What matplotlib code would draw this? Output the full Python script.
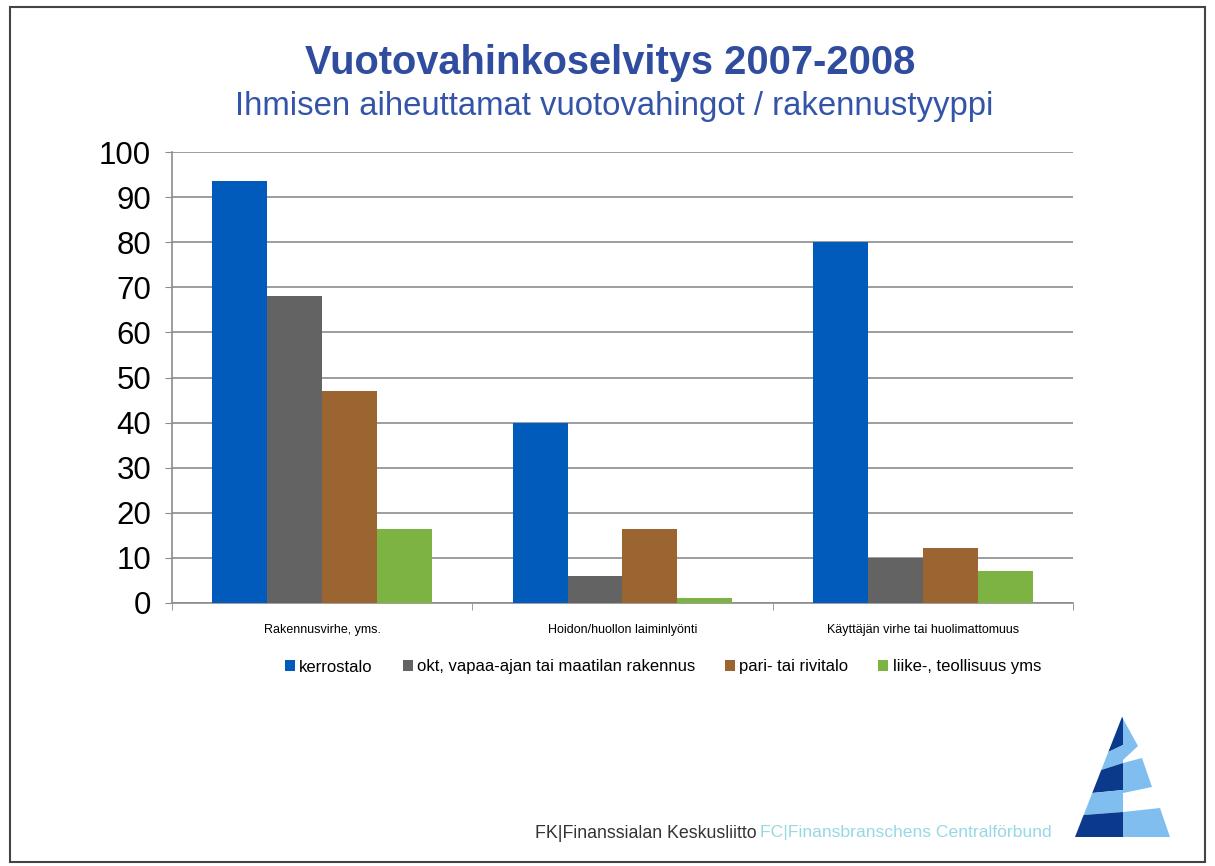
import matplotlib
matplotlib.use("Agg")
import matplotlib.pyplot as plt
from matplotlib.patches import Rectangle, Polygon
import numpy as np

plt.rcParams['font.family'] = ['Liberation Sans', 'DejaVu Sans']

categories = ["Rakennusvirhe, yms.", "Hoidon/huollon laiminlyönti", "Käyttäjän virhe tai huolimattomuus"]
series_names = ["kerrostalo", "okt, vapaa-ajan tai maatilan rakennus", "pari- tai rivitalo", "liike-, teollisuus yms"]
kerrostalo = [93.5, 40, 80]
okt = [68, 6, 10]
rivitalo = [47, 16.3, 12.3]
liike = [16.3, 1, 7]
yticks = [0, 10, 20, 30, 40, 50, 60, 70, 80, 90, 100]
colors = ["#005BBB", "#636363", "#9A6531", "#7DB343"]

title = "Vuotovahinkoselvitys 2007-2008"
subtitle = "Ihmisen aiheuttamat vuotovahingot / rakennustyyppi"
footer_fk = "FK|Finanssialan Keskusliitto"
footer_fc = "FC|Finansbranschens Centralförbund"

fig = plt.figure(figsize=(12.15, 8.66), dpi=100)
fig.patch.set_facecolor("white")

# frame
fig.patches.append(Rectangle((10/1215, 1-862/866), 1195/1215, 855/866, transform=fig.transFigure,
                             fill=False, edgecolor="#444444", lw=1.5))

ax = fig.add_axes([172/1215, 1-603/866, 901/1215, 451/866])
x = np.arange(len(categories))
w = 0.183
data = [kerrostalo, okt, rivitalo, liike]
for i, (vals, c, name) in enumerate(zip(data, colors, series_names)):
    ax.bar(x + (i - 1.5) * w, vals, width=w, color=c, label=name, zorder=3)

ax.set_xlim(-0.5, 2.5)
ax.set_ylim(0, 100)
ax.set_yticks(yticks)
ax.set_yticklabels([str(v) for v in yticks], fontsize=22.5)
ax.grid(axis='y', color="#8c8c8c", lw=1.2, zorder=0)
ax.set_xticks(x)
ax.set_xticklabels(categories, fontsize=9)
ax.set_xticks([-0.5, 0.5, 1.5, 2.5], minor=True)
ax.tick_params(axis='x', which='major', length=0, pad=15)
ax.tick_params(axis='x', which='minor', length=5, color="#8c8c8c", direction='out')
ax.tick_params(axis='y', length=5, color="#8c8c8c", pad=10)
for s in ['top', 'right']:
    ax.spines[s].set_visible(False)
for s in ['left', 'bottom']:
    ax.spines[s].set_color("#8c8c8c")
    ax.spines[s].set_linewidth(1.2)

fig.text(610/1215, 1-63/866, title, ha='center', va='center', fontsize=28.7, fontweight='bold', color="#2F4C9E")
fig.text(614/1215, 1-107/866, subtitle, ha='center', va='center', fontsize=23.7, color="#3354A8")

leg = fig.legend(loc='center', bbox_to_anchor=(663/1215, 1-667/866), ncol=4, frameon=False,
                 fontsize=12, handlelength=0.6, handleheight=0.6, handletextpad=0.25, columnspacing=1.8)

# footer logo text
fig.text(535/1215, 1-833/866, footer_fk, ha='left', va='center', fontsize=12.8, color="#333333")
fig.text(760/1215, 1-833/866, footer_fc, ha='left', va='center', fontsize=12.6, color="#96d8e6")

# logo: striped triangle (pixel coordinates converted to figure fraction)
def P(px, py):
    return (px/1215, 1-py/866)

def xl(y):
    return 1122 - (y - 717) * 47 / 120

dark = "#0B3A8C"
light = "#80BEF0"
S = 1123
left_bounds = [(717, 717, dark), (745, 752, light), (763, 770, dark), (790, 793, light), (812, 815, dark), (837, 837, None)]
for (ys, ye, c), (ys2, ye2, _) in zip(left_bounds[:-1], left_bounds[1:]):
    pts = [P(S, ys), P(xl(ye), ye), P(xl(ye2), ye2), P(S, ys2)]
    fig.patches.append(Polygon(pts, closed=True, transform=fig.transFigure, facecolor=c, edgecolor='none'))

right_polys = [
    [P(S, 717), P(1122, 717), P(1138, 746), P(S, 760)],
    [P(S, 763), P(1142, 758), P(1152, 787), P(S, 793)],
    [P(S, 812), P(1160, 808), P(1170, 837), P(S, 837)],
]
for pts in right_polys:
    fig.patches.append(Polygon(pts, closed=True, transform=fig.transFigure, facecolor=light, edgecolor='none'))

fig.savefig("out.png", dpi=100)
